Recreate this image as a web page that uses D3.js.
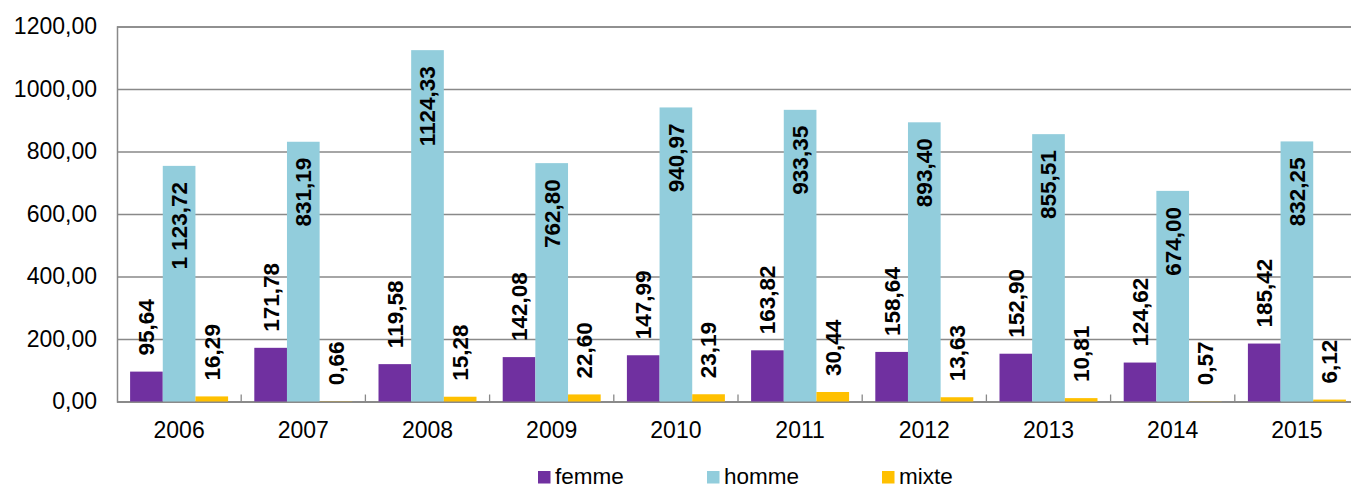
<!DOCTYPE html>
<html>
<head>
<meta charset="utf-8">
<script src="https://cdn.jsdelivr.net/npm/d3@7"></script>
<style>
  body { margin: 0; background: #fff; }
  svg { display: block; font-family: Arial, "Liberation Sans", sans-serif; }
  .axis text { fill: #000; font-size: 23px; }
  .lbl { font-size: 22.5px; font-weight: bold; fill: #000; }
</style>
</head>
<body>
<script>
// data
var years = ["2006", "2007", "2008", "2009", "2010", "2011", "2012", "2013", "2014", "2015"];
var series = ["femme", "homme", "mixte"];
var femme = [95.64, 171.78, 119.58, 142.08, 147.99, 163.82, 158.64, 152.90, 124.62, 185.42];
var homme = [754, 831.19, 1124.33, 762.80, 940.97, 933.35, 893.40, 855.51, 674.00, 832.25];
var mixte = [16.29, 0.66, 15.28, 22.60, 23.19, 30.44, 13.63, 10.81, 0.57, 6.12];
// labels as printed on the chart (the 2006 homme label does not match its bar)
var hommeLabels = ["1 123,72", "831,19", "1124,33", "762,80", "940,97", "933,35", "893,40", "855,51", "674,00", "832,25"];
var yTicks = [0, 200, 400, 600, 800, 1000, 1200];

var colors = { femme: "#7030A0", homme: "#92CDDC", mixte: "#FFC000" };

var W = 1351, H = 488;
var margin = { top: 26.5, left: 117 },
    width = 1242,
    height = 375;

var fr = d3.formatLocale({ decimal: ",", thousands: "", grouping: [3] });
var fmt = fr.format(".2f");

var svg = d3.select("body").append("svg")
    .attr("width", W)
    .attr("height", H);

var g = svg.append("g")
    .attr("transform", "translate(" + margin.left + "," + margin.top + ")");

var x = d3.scaleBand()
    .domain(years)
    .range([0, width])
    .paddingInner(0.211)
    .paddingOuter(0.1055);

var xs = d3.scaleBand()
    .domain(series)
    .range([0, x.bandwidth()]);

var y = d3.scaleLinear()
    .domain([0, 1200])
    .range([height, 0]);

// y axis + gridlines
var yAxis = d3.axisLeft(y)
    .tickValues(yTicks)
    .tickSize(-width)
    .tickPadding(20)
    .tickFormat(fmt);

g.append("g")
    .attr("class", "axis y")
    .call(yAxis)
    .call(function(s) {
      s.select(".domain").attr("stroke", "#898989").attr("stroke-width", 1.5);
      s.selectAll(".tick line").attr("stroke", "#898989").attr("stroke-width", 1.3);
    });

// x axis labels
var xAxis = d3.axisBottom(x)
    .tickSize(0)
    .tickSizeOuter(0)
    .tickPadding(20.5);

g.append("g")
    .attr("class", "axis x")
    .attr("transform", "translate(0," + height + ")")
    .call(xAxis)
    .call(function(s) {
      s.select(".domain").attr("stroke", "#898989").attr("stroke-width", 1.5);
    });

// category separator ticks (pointing up)
var gap = (x.step() - x.bandwidth()) / 2;
g.selectAll(".sep")
  .data(years.slice(1))
  .enter().append("line")
    .attr("class", "sep")
    .attr("x1", function(d) { return x(d) - gap; })
    .attr("x2", function(d) { return x(d) - gap; })
    .attr("y1", height)
    .attr("y2", height - 7)
    .attr("stroke", "#898989")
    .attr("stroke-width", 1.3);

var rows = years.map(function(yr, i) {
  return [
    { year: yr, s: "femme", v: femme[i], label: fmt(femme[i]), inside: false },
    { year: yr, s: "homme", v: homme[i], label: hommeLabels[i], inside: true },
    { year: yr, s: "mixte", v: mixte[i], label: fmt(mixte[i]), inside: false }
  ];
});
var flat = [].concat.apply([], rows);

g.selectAll(".bar")
  .data(flat)
  .enter().append("rect")
    .attr("class", "bar")
    .attr("x", function(d) { return x(d.year) + xs(d.s); })
    .attr("width", xs.bandwidth())
    .attr("y", function(d) { return y(d.v); })
    .attr("height", function(d) { return height - y(d.v); })
    .attr("fill", function(d) { return colors[d.s]; });

// data labels, rotated
g.selectAll(".lbl")
  .data(flat)
  .enter().append("text")
    .attr("class", "lbl")
    .attr("transform", function(d) {
      var cx = x(d.year) + xs(d.s) + xs.bandwidth() / 2;
      var cy = d.inside ? y(d.v) + 16 : y(d.v) - 16;
      return "translate(" + cx + "," + cy + ") rotate(-90)";
    })
    .attr("dy", "0.35em")
    .attr("text-anchor", function(d) { return d.inside ? "end" : "start"; })
    .text(function(d) { return d.label; });

// legend
var legX = [538, 707, 882];
var leg = svg.selectAll(".leg")
  .data(series)
  .enter().append("g")
    .attr("class", "leg")
    .attr("transform", function(d, i) { return "translate(" + legX[i] + ",471)"; });

leg.append("rect")
    .attr("width", 12.5)
    .attr("height", 12.5)
    .attr("fill", function(d) { return colors[d]; });

leg.append("text")
    .attr("x", 17)
    .attr("y", 12.5)
    .style("font-size", "22.5px")
    .text(function(d) { return d; });
</script>
</body>
</html>
